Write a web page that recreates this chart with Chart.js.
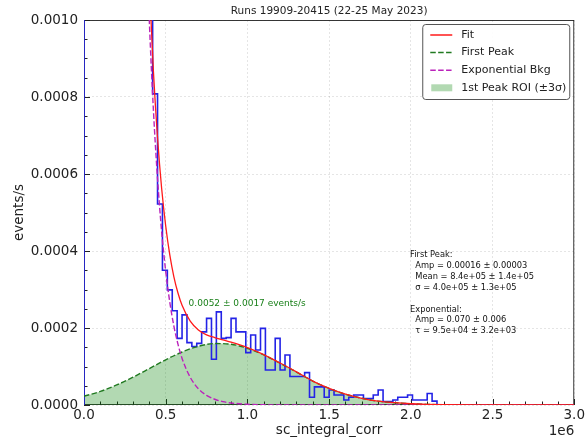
<!DOCTYPE html>
<html>
<head>
<meta charset="utf-8">
<script src="https://cdn.jsdelivr.net/npm/chart.js@4"></script>
<style>
  html, body { margin: 0; padding: 0; background: #fff; }
</style>
</head>
<body>
<canvas id="chart" width="587" height="439"></canvas>
<script>
// ---- data ----
const runTitle = 'Runs 19909-20415 (22-25 May 2023)';
const xTitle = 'sc_integral_corr';
const yTitle = 'events/s';

// histogram: bins of 30000 starting at 0, rate per bin (events/s)
const binWidth = 30000;
const rateHist = [
  0.0598, 0.0431, 0.0322, 0.0229, 0.0171, 0.0121, 0.0092, 0.0064, 0.0049, 0.0034, 0.0027, 0.0019, 0.00146, 0.00112,
  8.08e-4, 5.22e-4, 3.50e-4, 2.99e-4, 2.45e-4, 1.73e-4, 2.34e-4, 1.62e-4, 1.52e-4, 1.60e-4,
  1.90e-4, 2.25e-4, 1.19e-4, 2.42e-4, 1.73e-4, 1.75e-4, 2.25e-4, 1.90e-4, 1.90e-4, 1.36e-4,
  1.82e-4, 1.43e-4, 1.99e-4, 0.91e-4, 0.91e-4, 1.73e-4, 0.91e-4, 1.30e-4, 0.74e-4, 0.74e-4,
  0.74e-4, 0.84e-4, 0.20e-4, 0.47e-4, 0.47e-4, 0.20e-4, 0.39e-4, 0.26e-4, 0.26e-4, 0.13e-4,
  0.20e-4, 0.26e-4, 0.26e-4, 0.17e-4, 0.17e-4, 0.26e-4, 0.39e-4, 0.09e-4, 0.09e-4, 0.13e-4,
  0.20e-4, 0.20e-4, 0.26e-4, 0.13e-4, 0.13e-4, 0.13e-4, 0.30e-4, 0.10e-4
];

// fit curve (red)
const fitX = [350000, 375000, 400000, 425000, 450000, 475000, 500000, 525000, 550000, 575000, 600000,
  650000, 700000, 750000, 800000, 850000, 900000, 1000000, 1100000, 1200000, 1300000, 1400000, 1500000,
  1600000, 1700000, 1800000, 1900000, 2000000, 2100000, 2200000, 2400000, 2600000, 3000000];
const fitY = [17.6e-4, 13.8e-4, 10.9e-4, 8.65e-4, 6.94e-4, 5.63e-4, 4.65e-4, 3.90e-4, 3.33e-4, 2.91e-4, 2.59e-4,
  2.18e-4, 1.95e-4, 1.82e-4, 1.75e-4, 1.69e-4, 1.63e-4, 1.49e-4, 1.31e-4, 1.09e-4, 0.86e-4, 0.62e-4, 0.43e-4,
  0.28e-4, 0.175e-4, 0.10e-4, 0.06e-4, 0.033e-4, 0.017e-4, 0.008e-4, 0.001e-4, 0.0002e-4, 0];

// first peak (green dashed)
const peakX = [0, 100000, 200000, 300000, 400000, 500000, 600000, 700000, 800000, 900000, 1000000,
  1100000, 1200000, 1300000, 1400000, 1500000, 1600000, 1700000, 1800000, 1900000, 2000000, 2100000,
  2200000, 2400000, 2600000, 3000000];
const peakY = [0.227e-4, 0.353e-4, 0.520e-4, 0.722e-4, 0.947e-4, 1.175e-4, 1.377e-4, 1.525e-4, 1.596e-4, 1.578e-4, 1.474e-4,
  1.301e-4, 1.085e-4, 0.856e-4, 0.62e-4, 0.43e-4, 0.28e-4, 0.175e-4, 0.10e-4, 0.06e-4, 0.033e-4, 0.017e-4,
  0.008e-4, 0.001e-4, 0.0002e-4, 0];

// exponential background (magenta dashed)
const bkgX = [300000, 350000, 375000, 400000, 425000, 450000, 475000, 500000, 525000, 550000, 575000, 600000,
  650000, 700000, 750000, 800000, 850000, 900000, 1000000, 1100000, 1200000, 1300000, 3000000];
const bkgY = [28.5e-4, 16.8e-4, 12.9e-4, 9.94e-4, 7.64e-4, 5.88e-4, 4.51e-4, 3.47e-4, 2.67e-4, 2.05e-4, 1.58e-4, 1.21e-4,
  0.72e-4, 0.42e-4, 0.25e-4, 0.15e-4, 0.087e-4, 0.052e-4, 0.018e-4, 0.006e-4, 0.002e-4, 0.0007e-4, 0];

// ROI = mean +- 3 sigma of the first peak
const peakMean = 840000;
const peakSigma = 400000;

const legendLabels = ['Fit', 'First Peak', 'Exponential Bkg', '1st Peak ROI (\u00b13\u03c3)'];
const roiText = '0.0052 \u00b1 0.0017 events/s';
const fitInfo = [
  'First Peak:',
  '  Amp = 0.00016 \u00b1 0.00003',
  '  Mean = 8.4e+05 \u00b1 1.4e+05',
  '  \u03c3 = 4.0e+05 \u00b1 1.3e+05',
  '',
  'Exponential:',
  '  Amp = 0.070 \u00b1 0.006',
  '  \u03c4 = 9.5e+04 \u00b1 3.2e+03'
];

const xMax = 3000000, xMajor = 500000, xMinor = 100000;
const yMax = 0.001, yMajor = 0.0002, yMinor = 0.00005;

// ---- colours ----
const histColor = '#2323e6';
const fitColor = '#ff1a1a';
const peakColor = '#217a21';
const bkgColor = '#bb22bb';
const roiFill = 'rgba(0,128,0,0.3)';
const dash = [5.5, 2.4];

const pts = (xs, ys) => xs.map((x, i) => ({ x: x, y: ys[i] }));

// step outline of the histogram: start at 0, left edges, close at last right edge
const histPoints = [{ x: 0, y: 0 }]
  .concat(rateHist.map((v, k) => ({ x: k * binWidth, y: v })))
  .concat([{ x: rateHist.length * binWidth, y: 0 }]);

const roiLo = Math.max(0, peakMean - 3 * peakSigma), roiHi = peakMean + 3 * peakSigma;
const roiPoints = pts(peakX, peakY).filter(p => p.x >= roiLo && p.x <= roiHi);

Chart.defaults.font.family = '"DejaVu Sans", sans-serif';
Chart.defaults.color = '#222';

// frame + inward matplotlib-style ticks
const frameTicks = {
  id: 'frameTicks',
  beforeDatasetsDraw(chart) {
    const { ctx, chartArea: a, scales: { x, y } } = chart;
    ctx.save();
    ctx.strokeStyle = '#222';
    ctx.lineWidth = 1;
    ctx.beginPath();
    for (let i = 0; i * xMinor <= xMax; i++) {
      const px = Math.round(x.getPixelForValue(i * xMinor)) + 0.5;
      const len = (i * xMinor) % xMajor === 0 ? 6 : 3.5;
      ctx.moveTo(px, a.bottom);
      ctx.lineTo(px, a.bottom - len);
    }
    for (let i = 0; i * yMinor <= yMax + 1e-12; i++) {
      const py = Math.round(y.getPixelForValue(i * yMinor)) + 0.5;
      const len = i % 4 === 0 ? 6 : 3.5;
      ctx.moveTo(a.left, py);
      ctx.lineTo(a.left + len, py);
    }
    ctx.stroke();
    ctx.lineWidth = 0.9;
    ctx.strokeRect(a.left + 0.5, a.top + 0.5, a.width - 1, a.height - 1);
    ctx.restore();
  }
};

// title, legend box, annotation texts, offset label
const extras = {
  id: 'extras',
  afterDraw(chart) {
    const { ctx, chartArea: a, scales: { x, y } } = chart;
    ctx.save();
    ctx.textBaseline = 'middle';

    ctx.fillStyle = '#222';
    ctx.font = '10.5px "DejaVu Sans"';
    ctx.textAlign = 'center';
    ctx.fillText(runTitle, (a.left + a.right) / 2, 11);

    ctx.font = '13.5px "DejaVu Sans"';
    ctx.textAlign = 'right';
    ctx.fillText('1e6', a.right, 431);

    // ROI rate label
    ctx.textAlign = 'left';
    ctx.fillStyle = '#1a801a';
    ctx.font = '9px "DejaVu Sans"';
    ctx.fillText(roiText, x.getPixelForValue(640000), y.getPixelForValue(0.000262));

    // fit parameters
    ctx.fillStyle = '#111';
    ctx.font = '8.3px "DejaVu Sans"';
    const tx = a.left + 0.665 * a.width;
    let ty = a.top + 0.61 * a.height;
    fitInfo.forEach(line => {
      if (line) ctx.fillText(line, tx, ty);
      ty += 10.9;
    });

    // legend
    const bw = 147, bh = 75;
    const bx = a.right - 5 - bw, by = a.top + 4;
    ctx.fillStyle = 'rgba(255,255,255,0.9)';
    ctx.strokeStyle = '#555';
    ctx.lineWidth = 1;
    ctx.beginPath();
    ctx.roundRect(bx + 0.5, by + 0.5, bw, bh, 3);
    ctx.fill();
    ctx.stroke();

    const styles = [
      { color: fitColor, dash: [] },
      { color: peakColor, dash: dash },
      { color: bkgColor, dash: dash },
      { fill: roiFill }
    ];
    ctx.font = '11px "DejaVu Sans"';
    legendLabels.forEach((lab, i) => {
      const ry = by + 11 + i * 17.6;
      const s = styles[i];
      if (s.fill) {
        ctx.fillStyle = s.fill;
        ctx.fillRect(bx + 9, ry - 3.5, 21, 7);
      } else {
        ctx.strokeStyle = s.color;
        ctx.lineWidth = 1.5;
        ctx.setLineDash(s.dash);
        ctx.beginPath();
        ctx.moveTo(bx + 8, ry);
        ctx.lineTo(bx + 30, ry);
        ctx.stroke();
        ctx.setLineDash([]);
      }
      ctx.fillStyle = '#222';
      ctx.fillText(lab, bx + 39, ry);
    });
    ctx.restore();
  }
};

new Chart(document.getElementById('chart'), {
  type: 'line',
  data: {
    datasets: [
      {
        label: 'Fit', data: pts(fitX, fitY), borderColor: fitColor, borderWidth: 1.3,
        cubicInterpolationMode: 'monotone', pointRadius: 0, fill: false, order: 0
      },
      {
        label: 'Exponential Bkg', data: pts(bkgX, bkgY), borderColor: bkgColor, borderWidth: 1.4,
        borderDash: dash, cubicInterpolationMode: 'monotone', pointRadius: 0, fill: false, order: 1
      },
      {
        label: 'First Peak', data: pts(peakX, peakY), borderColor: peakColor, borderWidth: 1.4,
        borderDash: dash, cubicInterpolationMode: 'monotone', pointRadius: 0, fill: false, order: 2
      },
      {
        label: 'data', data: histPoints, borderColor: histColor, borderWidth: 1.6,
        stepped: 'before', pointRadius: 0, fill: false, order: 3
      },
      {
        label: '1st Peak ROI', data: roiPoints, borderWidth: 0, borderColor: 'rgba(0,0,0,0)',
        backgroundColor: roiFill, cubicInterpolationMode: 'monotone', pointRadius: 0,
        fill: 'origin', order: 4
      }
    ]
  },
  options: {
    responsive: false,
    animation: false,
    devicePixelRatio: 1,
    layout: { padding: { top: 20, right: 11, left: 0, bottom: 0 } },
    plugins: {
      legend: { display: false },
      tooltip: { enabled: false }
    },
    scales: {
      x: {
        type: 'linear',
        min: 0,
        max: xMax,
        afterFit: s => { s.height = 34; },
        ticks: {
          stepSize: xMajor,
          padding: 2,
          font: { size: 13.5 },
          color: '#222',
          callback: v => (v / 1e6).toFixed(1)
        },
        grid: { color: 'rgba(0,0,0,0.13)', lineWidth: 0.8, drawTicks: false },
        border: { display: false, dash: [2, 2] },
        title: { display: true, text: xTitle, font: { size: 13.5 }, color: '#222', padding: { top: 0, bottom: 0 } }
      },
      y: {
        min: 0,
        max: yMax,
        afterFit: s => { s.width = 84; },
        ticks: {
          stepSize: yMajor,
          padding: 6,
          font: { size: 13.5 },
          color: '#222',
          callback: v => v.toFixed(4)
        },
        grid: { color: 'rgba(0,0,0,0.13)', lineWidth: 0.8, drawTicks: false },
        border: { display: false, dash: [2, 2] },
        title: { display: true, text: yTitle, font: { size: 13.5 }, color: '#222', padding: { top: 11.5, bottom: 0 } }
      }
    }
  },
  plugins: [frameTicks, extras]
});
</script>
</body>
</html>
